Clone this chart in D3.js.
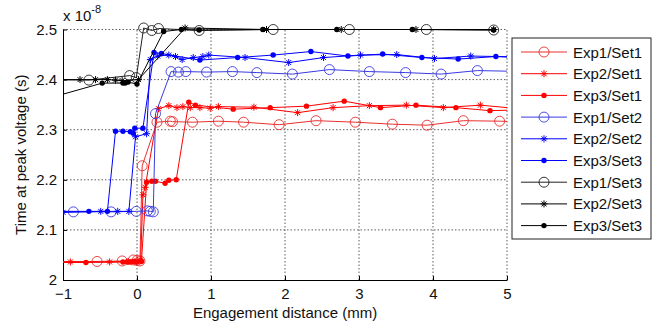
<!DOCTYPE html>
<html>
<head>
<meta charset="utf-8">
<script src="https://cdn.jsdelivr.net/npm/d3@7"></script>
<style>
  body { margin: 0; background: #fff; }
  svg { font-family: Arial, 'Liberation Sans', sans-serif; }
</style>
</head>
<body>
<div id="chart"></div>
<script>
// time values are in units of 1e-8 s, distance in mm
const seriesNames = ['Exp1/Set1', 'Exp2/Set1', 'Exp3/Set1', 'Exp1/Set2', 'Exp2/Set2', 'Exp3/Set3', 'Exp1/Set3', 'Exp2/Set3', 'Exp3/Set3'];

const exp1Set1X = [-1.2, -0.54, -0.2, -0.05, 0.0, 0.04, 0.07, 0.27, 0.45, 0.48, 0.75, 1.10, 1.44, 1.92, 2.42, 2.95, 3.45, 3.92, 4.41, 4.90, 5.3];
const exp1Set1Y = [2.037, 2.037, 2.038, 2.040, 2.039, 2.038, 2.228, 2.315, 2.317, 2.316, 2.315, 2.317, 2.315, 2.310, 2.318, 2.315, 2.311, 2.309, 2.318, 2.317, 2.315];

const exp2Set1X = [-1.3, -0.9, -0.37, -0.12, 0.0, 0.05, 0.08, 0.11, 0.29, 0.43, 0.54, 0.62, 0.72, 0.85, 0.99, 1.10, 1.58, 2.17, 2.65, 3.14, 3.64, 4.14, 4.64, 5.3];
const exp2Set1Y = [2.036, 2.036, 2.036, 2.037, 2.038, 2.040, 2.170, 2.185, 2.342, 2.348, 2.344, 2.346, 2.344, 2.344, 2.343, 2.346, 2.345, 2.334, 2.344, 2.348, 2.349, 2.344, 2.349, 2.340];

const exp3Set1X = [-1.2, -0.69, -0.19, -0.13, -0.09, -0.05, 0.0, 0.06, 0.13, 0.2, 0.25, 0.38, 0.43, 0.53, 0.70, 0.79, 1.30, 1.80, 2.29, 2.80, 3.29, 3.77, 4.31, 4.77, 5.3];
const exp3Set1Y = [2.035, 2.035, 2.036, 2.036, 2.036, 2.037, 2.036, 2.037, 2.195, 2.197, 2.197, 2.193, 2.199, 2.200, 2.355, 2.349, 2.341, 2.344, 2.347, 2.357, 2.344, 2.349, 2.344, 2.338, 2.340];

const exp1Set2X = [-1.3, -0.86, -0.35, -0.01, 0.14, 0.18, 0.22, 0.25, 0.46, 0.56, 0.66, 0.94, 1.29, 1.62, 2.10, 2.60, 3.14, 3.63, 4.11, 4.60, 5.3];
const exp1Set2Y = [2.136, 2.136, 2.136, 2.137, 2.138, 2.137, 2.136, 2.332, 2.416, 2.415, 2.416, 2.415, 2.416, 2.414, 2.411, 2.420, 2.416, 2.414, 2.411, 2.418, 2.416];

const exp2Set2X = [-1.3, -1.0, -0.49, -0.26, -0.11, -0.02, 0.13, 0.18, 0.28, 0.43, 0.52, 0.61, 0.76, 0.89, 0.97, 1.46, 2.05, 2.52, 3.02, 3.51, 4.02, 4.51, 5.3];
const exp2Set2Y = [2.135, 2.135, 2.137, 2.137, 2.137, 2.286, 2.292, 2.440, 2.447, 2.449, 2.446, 2.440, 2.444, 2.446, 2.449, 2.444, 2.434, 2.444, 2.449, 2.450, 2.442, 2.447, 2.445];

const exp3Set2X = [-1.3, -0.65, -0.40, -0.29, -0.19, -0.09, -0.05, -0.03, 0.08, 0.23, 0.33, 0.85, 1.36, 1.84, 2.35, 2.85, 3.32, 3.85, 4.34, 4.85, 5.3];
const exp3Set2Y = [2.137, 2.137, 2.137, 2.297, 2.297, 2.296, 2.293, 2.303, 2.303, 2.454, 2.452, 2.439, 2.444, 2.449, 2.456, 2.447, 2.451, 2.444, 2.441, 2.446, 2.443];

const exp1Set3X = [-1.3, -0.65, -0.10, -0.01, 0.09, 0.20, 0.29, 0.84, 1.84, 2.87, 3.91, 4.82];
const exp1Set3Y = [2.400, 2.399, 2.408, 2.404, 2.503, 2.498, 2.502, 2.498, 2.500, 2.500, 2.500, 2.499];

const exp2Set3X = [-1.3, -0.77, -0.56, -0.40, -0.29, -0.20, 0.02, 0.65, 1.75, 2.76, 3.77, 4.82];
const exp2Set3Y = [2.400, 2.400, 2.400, 2.400, 2.399, 2.398, 2.400, 2.503, 2.500, 2.500, 2.500, 2.500];

const exp3Set3X = [-1.5, -0.47, -0.19, -0.16, -0.12, 0.0, 0.36, 0.60, 0.84, 1.70, 2.70, 3.72, 4.82];
const exp3Set3Y = [2.350, 2.393, 2.393, 2.393, 2.395, 2.391, 2.496, 2.500, 2.499, 2.500, 2.500, 2.500, 2.499];

const xTicks = [-1, 0, 1, 2, 3, 4, 5];
const yTicks = [2, 2.1, 2.2, 2.3, 2.4, 2.5];

const xs = [exp1Set1X, exp2Set1X, exp3Set1X, exp1Set2X, exp2Set2X, exp3Set2X, exp1Set3X, exp2Set3X, exp3Set3X];
const ys = [exp1Set1Y, exp2Set1Y, exp3Set1Y, exp1Set2Y, exp2Set2Y, exp3Set2Y, exp1Set3Y, exp2Set3Y, exp3Set3Y];
const colors = ['#e8302f', '#ff0000', '#ff0000', '#3a3ae0', '#0000ff', '#0000ff', '#222', '#000', '#000'];
const markers = ['o', '*', '.', 'o', '*', '.', 'o', '*', '.'];

const series = seriesNames.map((name, i) => ({
  name,
  color: colors[i],
  marker: markers[i],
  points: xs[i].map((x, j) => ({x, y: ys[i][j]}))
}));

const width = 655, height = 327;
const plot = {left: 63, right: 507, top: 29.5, bottom: 280};

const svg = d3.select('#chart')
  .append('svg')
  .attr('width', width)
  .attr('height', height);

const x = d3.scaleLinear().domain([-1, 5]).range([plot.left, plot.right]);
const y = d3.scaleLinear().domain([2, 2.5]).range([plot.bottom, plot.top]);

// grid
const grid = svg.append('g')
  .attr('stroke', '#333')
  .attr('stroke-width', 0.8)
  .attr('stroke-dasharray', '1.5,2');

grid.selectAll('.gx')
  .data(xTicks.slice(1))
  .enter().append('line')
  .attr('x1', d => x(d)).attr('x2', d => x(d))
  .attr('y1', plot.bottom).attr('y2', plot.top);

grid.selectAll('.gy')
  .data(yTicks.slice(1))
  .enter().append('line')
  .attr('x1', plot.left).attr('x2', plot.right)
  .attr('y1', d => y(d)).attr('y2', d => y(d));

// axes (ticks inward like matlab)
const xAxis = svg.append('g')
  .attr('transform', `translate(0,${plot.bottom})`)
  .call(d3.axisBottom(x).tickValues(xTicks).tickSizeInner(-4).tickSizeOuter(0).tickPadding(8).tickFormat(d3.format('d')));

const yAxis = svg.append('g')
  .attr('transform', `translate(${plot.left},0)`)
  .call(d3.axisLeft(y).tickValues(yTicks).tickSizeInner(-4).tickSizeOuter(0).tickPadding(6).tickFormat(d => d === 2 ? '2' : d3.format('.1f')(d)));

[xAxis, yAxis].forEach(a => {
  a.selectAll('path').attr('stroke', '#000');
  a.selectAll('line').attr('stroke', '#000');
  a.selectAll('text')
    .attr('font-size', 15)
    .attr('fill', '#111')
    .attr('font-family', 'Arial, Liberation Sans, sans-serif');
});

// clip only horizontally so markers at 2.5 stay whole
svg.append('clipPath')
  .attr('id', 'clip')
  .append('rect')
  .attr('x', plot.left).attr('y', 0)
  .attr('width', plot.right - plot.left).attr('height', height);

const line = d3.line()
  .x(d => x(d.x))
  .y(d => y(d.y));

const starPath = 'M-3.5,0H3.5M0,-3.5V3.5M-2.5,-2.5L2.5,2.5M-2.5,2.5L2.5,-2.5';

function drawMarker(g, type, color) {
  if (type === 'o') {
    g.append('circle').attr('r', 5).attr('fill', 'none').attr('stroke', color).attr('stroke-width', 0.9);
  } else if (type === '.') {
    g.append('circle').attr('r', 2.7).attr('fill', color);
  } else {
    g.append('path').attr('d', starPath).attr('fill', 'none').attr('stroke', color).attr('stroke-width', 1);
  }
}

const marks = svg.append('g').attr('clip-path', 'url(#clip)');

series.forEach(s => {
  const g = marks.append('g');
  g.append('path')
    .datum(s.points)
    .attr('d', line)
    .attr('fill', 'none')
    .attr('stroke', s.color)
    .attr('stroke-width', 1);

  g.selectAll('.m')
    .data(s.points)
    .enter().append('g')
    .attr('transform', d => `translate(${x(d.x)},${y(d.y)})`)
    .each(function() { drawMarker(d3.select(this), s.marker, s.color); });
});

// labels
svg.append('text')
  .attr('x', (plot.left + plot.right) / 2)
  .attr('y', 318)
  .attr('text-anchor', 'middle')
  .attr('font-size', 15)
  .attr('fill', '#111')
  .text('Engagement distance (mm)');

svg.append('text')
  .attr('transform', `translate(26,${(plot.top + plot.bottom) / 2}) rotate(-90)`)
  .attr('text-anchor', 'middle')
  .attr('font-size', 15)
  .attr('fill', '#111')
  .text('Time at peak voltage (s)');

const expo = svg.append('text')
  .attr('x', 63)
  .attr('y', 21)
  .attr('font-size', 15)
  .attr('fill', '#111');
expo.append('tspan').text('x 10');
expo.append('tspan').attr('font-size', 11).attr('dy', -8).text('-8');

// legend
const legend = svg.append('g').attr('transform', 'translate(512,38)');

legend.append('rect')
  .attr('width', 139)
  .attr('height', 201)
  .attr('fill', '#fff')
  .attr('stroke', '#222')
  .attr('stroke-width', 1);

const item = legend.selectAll('.item')
  .data(series)
  .enter().append('g')
  .attr('transform', (d, i) => `translate(0,${14 + i * 21.7})`);

item.append('line')
  .attr('x1', 9).attr('x2', 55)
  .attr('stroke', d => d.color)
  .attr('stroke-width', 1);

item.append('g')
  .attr('transform', 'translate(32,0)')
  .each(function(d) { drawMarker(d3.select(this), d.marker, d.color); });

item.append('text')
  .attr('x', 61)
  .attr('y', 5.5)
  .attr('font-size', 15)
  .attr('fill', '#111')
  .text(d => d.name);
</script>
</body>
</html>
